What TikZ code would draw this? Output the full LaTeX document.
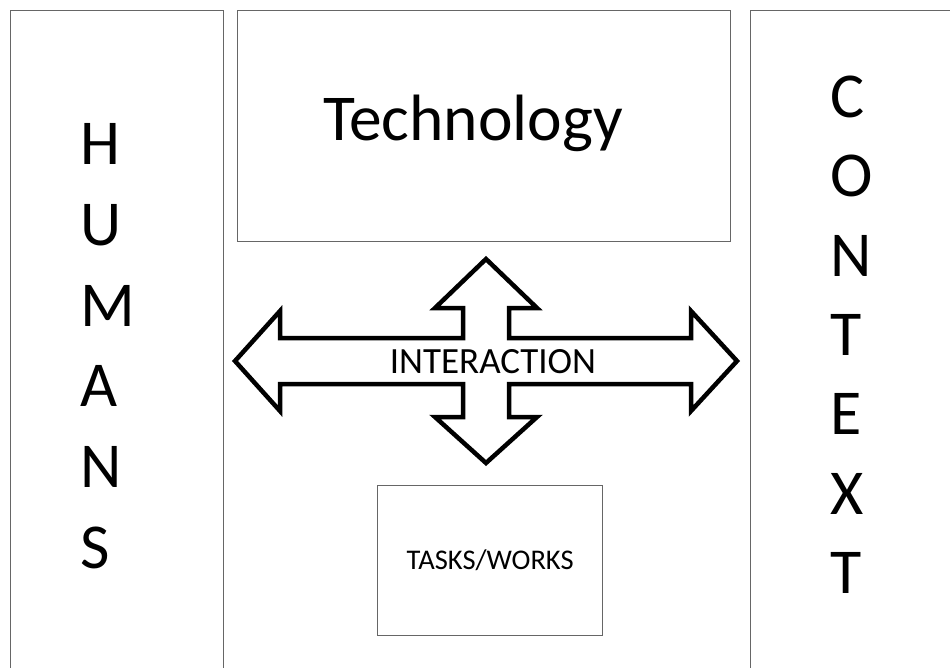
\documentclass[tikz,border=0pt]{standalone}
\usepackage{fontspec}
\setmainfont{Carlito}
\usetikzlibrary{positioning}
\tikzset{>=latex}

\begin{document}
\begin{tikzpicture}[x=1pt, y=-1pt, box/.style={draw=black!60, line width=1.3pt, inner sep=0pt, anchor=north west}, letter/.style={anchor=base west, inner sep=0pt, font=\fontsize{64}{64}\selectfont}, crossarrow/.style={draw=black, line width=4.5pt, line join=miter, fill=white}] 
		\useasboundingbox (0,0) rectangle (950,668);
		\clip (0,0) rectangle (950,668);

		\node[box, minimum width=213pt, minimum height=700pt] (humans) at (10,10) {};
		\node[box, minimum width=493pt, minimum height=231pt] (tech) at (237,10) {};
		\node[box, minimum width=250pt, minimum height=700pt] (context) at (750,10) {};
		\node[box, minimum width=225pt, minimum height=150pt, font=\fontsize{28.5}{28.5}\selectfont] (tasks) at (377,485) {TASKS/WORKS};
		\node[inner sep=0pt, anchor=base, font=\fontsize{65.5}{65.5}\selectfont] (techlabel) at (473,141) {Technology};

		\foreach \l [count=\i] in {H,U,M,A,N,S}
			\node[letter] (hum\i) at (80, 84.4+80.6*\i) {\l};
		\foreach \l [count=\i] in {C,O,N,T,E,X,T}
			\node[letter] (con\i) at (830, 38.2+79.3*\i) {\l};

		\coordinate (ix) at (486,361);
		\begin{scope}[shift={(ix)}]
			\path[crossarrow] (-251,0) -- (-206,-50) -- (-206,-23) -- (-23,-23) -- (-23,-53) -- (-51,-53) -- (0,-102) -- (51,-53) -- (23,-53) -- (23,-23) -- (205,-23) -- (205,-50) -- (251,0) -- (205,50) -- (205,23) -- (23,23) -- (23,56) -- (51,56) -- (0,102) -- (-51,56) -- (-23,56) -- (-23,23) -- (-206,23) -- (-206,50) -- cycle;
		\end{scope}
		\node[inner sep=0pt, font=\fontsize{37}{37}\selectfont] (interaction) at (493,362) {INTERACTION};
		\end{tikzpicture}
\end{document}
